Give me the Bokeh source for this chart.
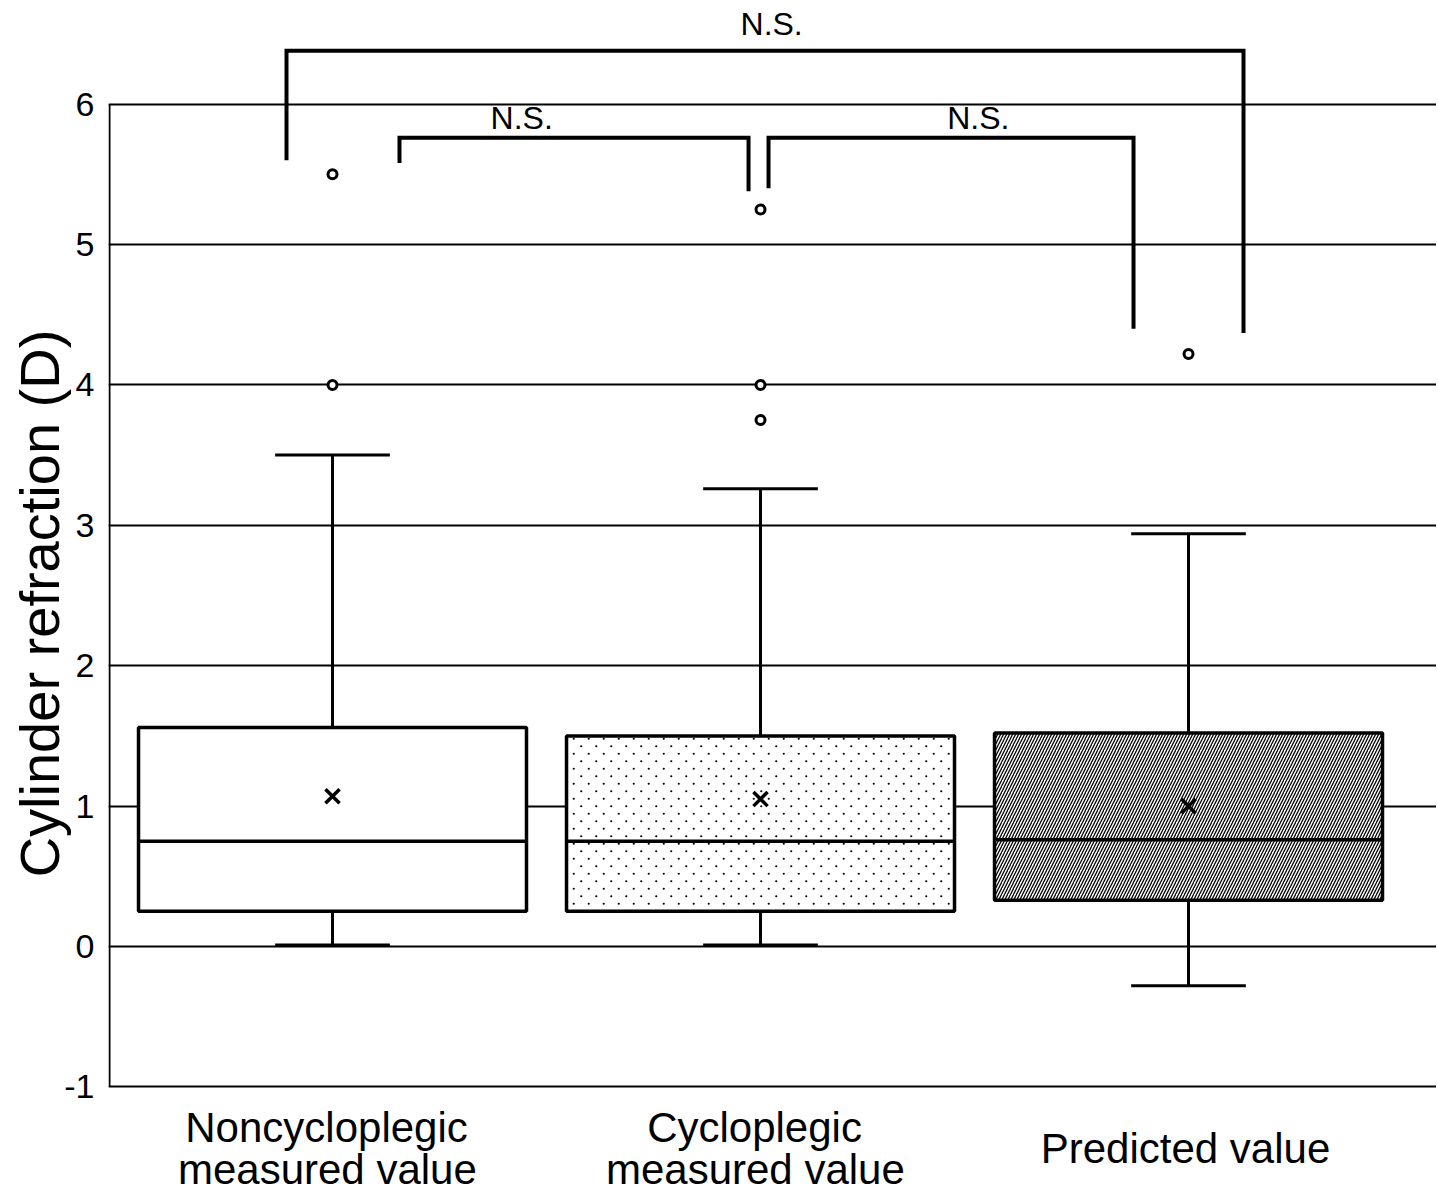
from bokeh.plotting import figure
from bokeh.models import FixedTicker, Range1d, ColumnDataSource, ImageURLTexture
from bokeh.core.properties import value
from bokeh.embed import file_html
from bokeh.resources import INLINE

# ---------------- data ----------------
label_line1 = ["Noncycloplegic", "Cycloplegic", "Predicted value"]
label_line2 = ["measured value", "measured value", ""]
positions = [1, 2, 3]
q1 = [0.25, 0.25, 0.33]
median = [0.75, 0.75, 0.76]
q3 = [1.56, 1.50, 1.52]
whisker_low = [0.01, 0.01, -0.28]
whisker_high = [3.50, 3.26, 2.94]
mean = [1.07, 1.05, 1.00]
outlier_group = [1, 1, 2, 2, 2, 3]
outlier_values = [5.50, 4.00, 5.25, 4.00, 3.75, 4.22]
y_ticks = [-1, 0, 1, 2, 3, 4, 5, 6]
y_tick_labels = ["-1", "0", "1", "2", "3", "4", "5", "6"]
patterns = ["blank", "sparse_dot", "right_diagonal_line"]

# significance brackets
bracket_x_left = [0.8925, 1.1565, 2.0187]
bracket_x_right = [3.1285, 1.972, 2.8715]
bracket_top = [6.38, 5.76, 5.76]
bracket_left_bottom = [5.60, 5.58, 5.40]
bracket_right_bottom = [4.37, 5.38, 4.40]
bracket_text = ["N.S.", "N.S.", "N.S."]
bracket_text_x = [2.026, 1.442, 2.509]
bracket_text_y = [6.57, 5.90, 5.90]

# ---------------- styling constants ----------------
FONT = "Liberation Sans"
BOX_W = 0.9065
CAP_HALF = 0.134
X_START, X_END = 0.4766, 3.5794
Y_START, Y_END = -1.781, 6.667

dot_tile = ("data:image/svg+xml;utf8,<svg xmlns='http://www.w3.org/2000/svg' width='15' height='15'>"
            "<circle cx='3.75' cy='3.75' r='1.1' fill='black'/>"
            "<circle cx='11.25' cy='11.25' r='1.1' fill='black'/></svg>")

p = figure(width=1436, height=1196,
           x_range=Range1d(X_START, X_END), y_range=Range1d(Y_START, Y_END),
           output_backend="svg", toolbar_location=None,
           x_axis_location=None,
           min_border_left=108, min_border_right=0,
           min_border_top=10, min_border_bottom=0)
p.outline_line_color = None
p.background_fill_color = "white"
p.border_fill_color = "white"

# y axis
p.yaxis.ticker = FixedTicker(ticks=y_ticks)
p.yaxis.major_label_overrides = {t: s for t, s in zip(y_ticks, y_tick_labels)}
p.yaxis.axis_line_color = None
p.yaxis.major_tick_line_color = None
p.yaxis.minor_tick_line_color = None
p.yaxis.major_label_text_font = FONT
p.yaxis.major_label_text_font_size = "34px"
p.yaxis.major_label_text_color = "black"
p.yaxis.major_label_standoff = 8
p.yaxis.axis_label = "Cylinder refraction (D)"
p.yaxis.axis_label_text_font = FONT
p.yaxis.axis_label_text_font_size = "56px"
p.yaxis.axis_label_text_font_style = "normal"
p.yaxis.axis_label_text_color = "black"
p.yaxis.axis_label_standoff = -10

p.ygrid.grid_line_color = "black"
p.ygrid.grid_line_width = 1.8
p.xgrid.visible = False

# left axis line from -1 to 6
p.segment(x0=[X_START + 0.0023], y0=[min(y_ticks)], x1=[X_START + 0.0023], y1=[max(y_ticks)],
          line_color="black", line_width=2)

# whiskers
p.segment(x0=positions, y0=q3, x1=positions, y1=whisker_high, line_color="black", line_width=3)
p.segment(x0=positions, y0=whisker_low, x1=positions, y1=q1, line_color="black", line_width=3)
p.segment(x0=[x - CAP_HALF for x in positions], y0=whisker_high,
          x1=[x + CAP_HALF for x in positions], y1=whisker_high, line_color="black", line_width=3)
p.segment(x0=[x - CAP_HALF for x in positions], y0=whisker_low,
          x1=[x + CAP_HALF for x in positions], y1=whisker_low, line_color="black", line_width=3)

# boxes
box_src = ColumnDataSource(dict(x=positions, bottom=q1, top=q3, pattern=patterns,
                                scale=[8, 15, 6]))
p.vbar(x="x", width=BOX_W, bottom="bottom", top="top", source=box_src,
       fill_color="white", line_color="black", line_width=3.5,
       hatch_pattern="pattern", hatch_color="black", hatch_scale="scale",
       hatch_weight=1.3,
       hatch_extra={"sparse_dot": ImageURLTexture(url=dot_tile, repetition="repeat")})

# median
p.segment(x0=[x - BOX_W / 2 for x in positions], y0=median,
          x1=[x + BOX_W / 2 for x in positions], y1=median, line_color="black", line_width=3.5)

# mean
p.scatter(x=positions, y=mean, marker="x", size=20, line_color="black", line_width=3.5)

# outliers
p.scatter(x=outlier_group, y=outlier_values, marker="circle", size=9,
          fill_color="white", line_color="black", line_width=3)

# brackets
xs = [[l, l, r, r] for l, r in zip(bracket_x_left, bracket_x_right)]
ys = [[lb, t, t, rb] for lb, t, rb in zip(bracket_left_bottom, bracket_top, bracket_right_bottom)]
p.multi_line(xs=xs, ys=ys, line_color="black", line_width=4, line_join="miter")
p.text(x=bracket_text_x, y=bracket_text_y, text=bracket_text,
       text_font=value(FONT), text_font_size="32px", text_align="center",
       text_baseline="alphabetic", text_color="black")

# category labels
p.text(x=[x - 0.014 for x in positions[:2]], y=[-1.29, -1.29], text=label_line1[:2],
       text_font=value(FONT), text_font_size="42px", text_align="center",
       text_baseline="alphabetic", text_color="black")
p.text(x=[x - 0.012 for x in positions[:2]], y=[-1.59, -1.59], text=label_line2[:2],
       text_font=value(FONT), text_font_size="42px", text_align="center",
       text_baseline="alphabetic", text_color="black")
p.text(x=[positions[2] - 0.007], y=[-1.44], text=[label_line1[2]],
       text_font=value(FONT), text_font_size="42px", text_align="center",
       text_baseline="alphabetic", text_color="black")

open("out.html", "w").write(file_html(p, INLINE))
